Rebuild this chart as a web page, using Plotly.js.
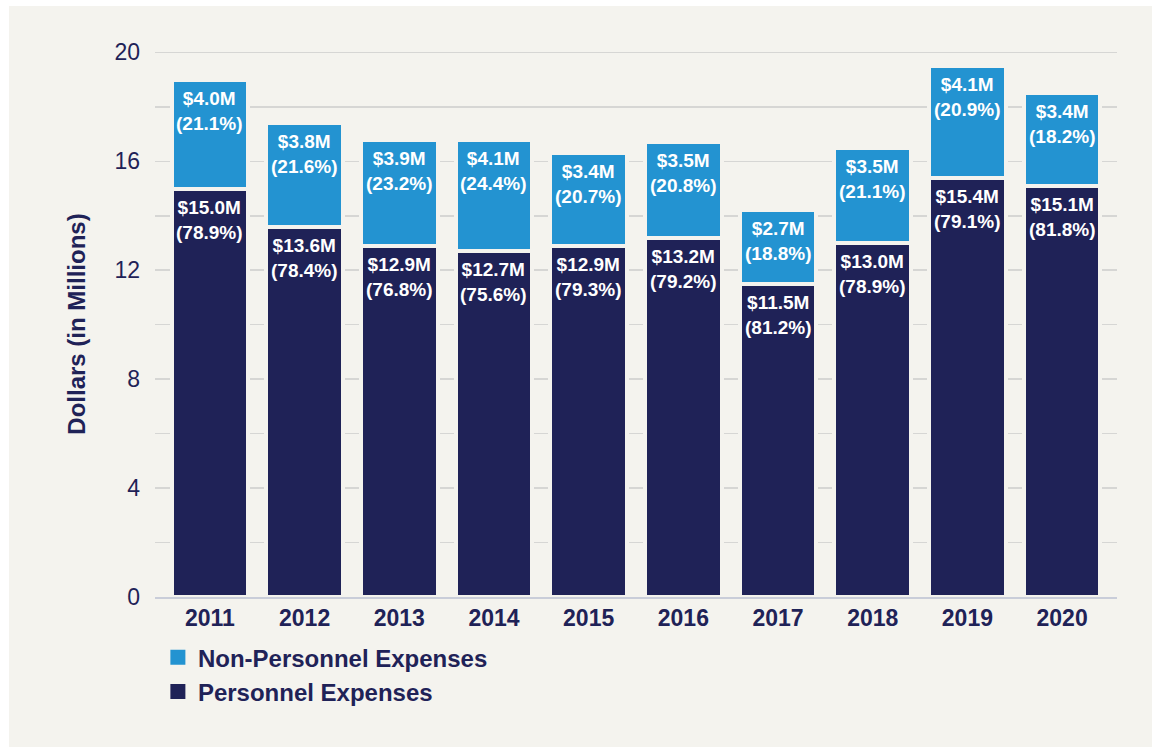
<!DOCTYPE html>
<html>
<head>
<meta charset="utf-8">
<script src="https://cdn.plot.ly/plotly-3.0.1.min.js"></script>
<style>
html,body{margin:0;padding:0;background:#ffffff;width:1155px;height:747px;overflow:hidden;}
#panel{position:absolute;left:9px;top:6px;width:1143px;height:741px;background:#f4f3ee;}
#chart{width:1143px;height:741px;}
</style>
</head>
<body>
<div id="panel"><div id="chart"></div></div>
<script>
const years = ['2011','2012','2013','2014','2015','2016','2017','2018','2019','2020'];
const personnel = [15.0, 13.6, 12.9, 12.7, 12.9, 13.2, 11.5, 13.0, 15.4, 15.1];
const personnelPct = [78.9, 78.4, 76.8, 75.6, 79.3, 79.2, 81.2, 78.9, 79.1, 81.8];
const nonPersonnel = [4.0, 3.8, 3.9, 4.1, 3.4, 3.5, 2.7, 3.5, 4.1, 3.4];
const nonPersonnelPct = [21.1, 21.6, 23.2, 24.4, 20.7, 20.8, 18.8, 21.1, 20.9, 18.2];
const yTicks = [0, 4, 8, 12, 16, 20];

const NAVY = '#1f2257';
const BLUE = '#2393d1';
const BG = '#f4f3ee';
const FONT = '"Liberation Sans", Arial, Helvetica, sans-serif';

function label(v, p) {
  return '<b>$' + v.toFixed(1) + 'M<br>(' + p.toFixed(1) + '%)</b>';
}

const common = {
  type: 'bar',
  x: years,
  width: 0.81,
  hoverinfo: 'skip',
  showlegend: false
};

const traces = [
  Object.assign({}, common, {
    name: 'Personnel Expenses',
    y: personnel,
    marker: {color: NAVY, line: {color: BG, width: 4}}
  }),
  Object.assign({}, common, {
    name: 'Non-Personnel Expenses',
    y: nonPersonnel,
    marker: {color: BLUE, line: {color: BG, width: 4}}
  }),
  {type: 'scatter', mode: 'markers', x: [null], y: [null], name: 'Personnel Expenses',
   marker: {color: NAVY, symbol: 'square', size: 15}, showlegend: true, hoverinfo: 'skip'},
  {type: 'scatter', mode: 'markers', x: [null], y: [null], name: 'Non-Personnel Expenses',
   marker: {color: BLUE, symbol: 'square', size: 15}, showlegend: true, hoverinfo: 'skip'}
];

const annotations = [];
years.forEach(function (yr, i) {
  annotations.push({
    x: i, y: personnel[i], xref: 'x', yref: 'y',
    text: label(personnel[i], personnelPct[i]),
    showarrow: false, yanchor: 'top', xanchor: 'center', yshift: -6,
    font: {family: FONT, size: 19, color: '#ffffff'}
  });
  annotations.push({
    x: i, y: personnel[i] + nonPersonnel[i], xref: 'x', yref: 'y',
    text: label(nonPersonnel[i], nonPersonnelPct[i]),
    showarrow: false, yanchor: 'top', xanchor: 'center', yshift: -6,
    font: {family: FONT, size: 19, color: '#ffffff'}
  });
});

const layout = {
  width: 1143,
  height: 741,
  paper_bgcolor: BG,
  plot_bgcolor: BG,
  barmode: 'stack',
  margin: {l: 146, r: 35, t: 45, b: 150},
  font: {family: FONT, color: NAVY},
  annotations: annotations,
  xaxis: {
    type: 'category',
    range: [-0.58, 9.58],
    showgrid: false,
    showline: true,
    linecolor: '#c9cdd9',
    linewidth: 1.5,
    ticks: '',
    tickfont: {family: FONT, size: 23, color: NAVY, weight: 'bold'},
    ticklabelstandoff: 0,
    fixedrange: true
  },
  yaxis: {
    range: [0, 20.05],
    tickvals: yTicks,
    ticktext: yTicks.map(String),
    showgrid: true,
    gridcolor: '#d6d6d4',
    gridwidth: 1.5,
    zeroline: false,
    showline: false,
    ticks: '',
    tickfont: {family: FONT, size: 23, color: NAVY},
    ticklabelstandoff: 14,
    minor: {dtick: 2, showgrid: true, gridcolor: '#d6d6d4', gridwidth: 1.5},
    title: {text: '<b>Dollars (in Millions)</b>', font: {family: FONT, size: 24, color: NAVY}, standoff: 22},
    automargin: false,
    fixedrange: true
  },
  showlegend: true,
  legend: {
    orientation: 'v',
    traceorder: 'reversed',
    x: 0.003,
    xanchor: 'left',
    y: -0.07,
    yanchor: 'top',
    bgcolor: 'rgba(0,0,0,0)',
    font: {family: FONT, size: 24, color: NAVY, weight: 'bold'},
    itemclick: false,
    itemdoubleclick: false
  }
};

Plotly.newPlot('chart', traces, layout, {displayModeBar: false, staticPlot: true});
</script>
</body>
</html>
